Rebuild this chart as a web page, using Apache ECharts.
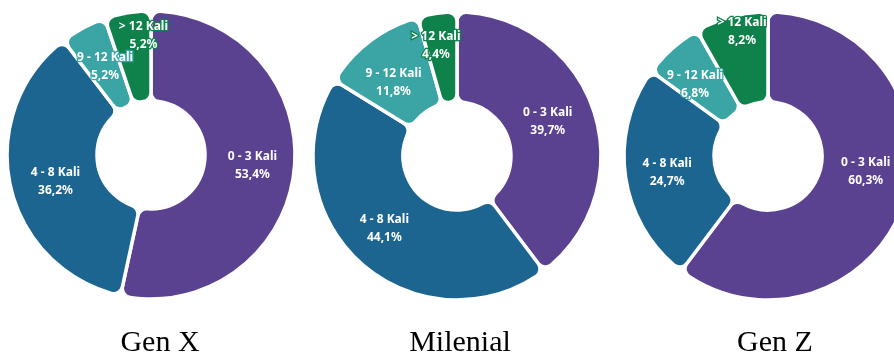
<!DOCTYPE html>
<html>
<head>
<meta charset="utf-8">
<script src="https://cdn.jsdelivr.net/npm/echarts@6/dist/echarts.min.js"></script>
<style>
html,body{margin:0;padding:0;background:#fff;}
#chart{width:894px;height:356px;}
</style>
</head>
<body>
<div id="chart"></div>
<script>
// ---- data ----
const categories = ['0 - 3 Kali', '4 - 8 Kali', '9 - 12 Kali', '> 12 Kali'];
const groups = ['Gen X', 'Milenial', 'Gen Z'];
const genX = [53.4, 36.2, 5.2, 5.2];
const milenial = [39.7, 44.1, 11.8, 4.4];
const genZ = [60.3, 24.7, 6.8, 8.2];

// ---- style / layout ----
const colors = ['#5b4290', '#1d6591', '#3aa5a4', '#0f814b'];
const seriesValues = [genX, milenial, genZ];
const centers = [[151, 155], [457, 156], [768, 156]];
const titleX = [160, 460, 775];
const labelNudge = [
  [[0, 0], [4, 4], [2, 2], [9, -19]],
  [[-6, -2], [-4, -3], [-2, 8], [-7, -9]],
  [[1, -17], [0, 2], [-5, 5], [0, -26]]
];

const chart = echarts.init(document.getElementById('chart'), null, {renderer: 'canvas'});

const series = seriesValues.map((vals, g) => ({
  type: 'pie',
  name: groups[g],
  center: centers[g],
  radius: [54, 144],
  startAngle: 90,
  clockwise: true,
  avoidLabelOverlap: false,
  silent: true,
  animation: false,
  itemStyle: {
    borderColor: '#ffffff',
    borderWidth: 3.5,
    borderRadius: 9
  },
  label: {
    show: true,
    position: 'inside',
    color: '#ffffff',
    fontFamily: '"Noto Sans", sans-serif',
    fontWeight: 'bold',
    fontSize: 12,
    lineHeight: 18,
    formatter: p => p.name + '\n' + String(p.value).replace('.', ',') + '%'
  },
  labelLine: {show: false},
  labelLayout: p => ({dx: labelNudge[g][p.dataIndex][0], dy: labelNudge[g][p.dataIndex][1]}),
  data: categories.map((c, i) => ({
    name: c,
    value: vals[i],
    itemStyle: {color: colors[i]},
    label: i >= 2 ? {textBorderColor: colors[i], textBorderWidth: 2.5} : {}
  }))
}));

chart.setOption({
  backgroundColor: '#ffffff',
  animation: false,
  series: series,
  graphic: groups.map((t, g) => ({
    type: 'text',
    x: titleX[g],
    y: 343,
    style: {
      text: t,
      font: '30px "Liberation Serif", "Times New Roman", serif',
      fill: '#000000',
      textAlign: 'center',
      textVerticalAlign: 'middle'
    }
  }))
});
</script>
</body>
</html>
